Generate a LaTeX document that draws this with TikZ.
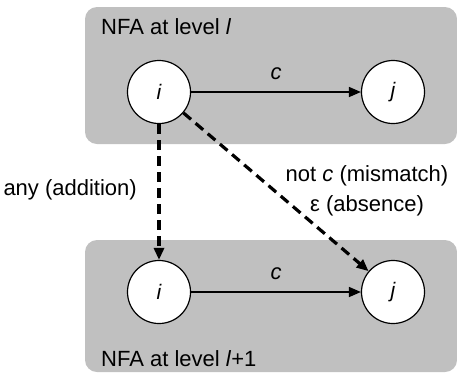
\documentclass[tikz,border=0pt]{standalone}
\usepackage{fontspec}
\setmainfont{Liberation Sans}
\usetikzlibrary{arrows.meta}

\definecolor{levelgray}{RGB}{192,192,192}
\tikzset{
  state/.style={circle,draw,fill=white,line width=1.2pt,minimum size=63pt,inner sep=0pt,font=\fontsize{21}{24}\selectfont\itshape},
  level/.style={fill=levelgray,rounded corners=12pt},
  lbl/.style={font=\fontsize{22}{30}\selectfont,inner sep=0pt},
  trans/.style={line width=1.5pt,-{Triangle[length=12pt,width=10pt]}},
  jump/.style={trans,line width=3.2pt,dash pattern=on 10pt off 6pt}
}

\begin{document}
\begin{tikzpicture}[x=1pt,y=-1pt]
    \useasboundingbox (0,0) rectangle (457,373);
    \path[level] (85,7) rectangle (457,144); % level l
    \path[level] (85,240) rectangle (457,372); % level l+1
    \node[lbl,anchor=west] (top) at (101,27) {NFA at level \textit{l}};
    \node[lbl,anchor=west] (bot) at (101,359) {NFA at level \textit{l}+1};
					 % states
    \node[state] (i1) at (159,92) {i};
    \node[state] (j1) at (393,92) {j};
    \node[state] (i2) at (159,292) {i};
    \node[state] (j2) at (393,292) {j};

    \draw[trans] (i1) -- node[lbl,above=12pt,font=\fontsize{22}{26}\selectfont\itshape] {c} (j1);
    \draw[trans] (i2) -- node[lbl,above=12pt,font=\fontsize{22}{26}\selectfont\itshape] {c} (j2);

    \draw[jump] (i1) -- (i2);
    \draw[jump] (i1) -- (j2);
    \node[lbl,anchor=east] (add) at (137,190) {any (addition)};
    \node[lbl,align=center] (mis) at (367,191) {not \textit{c} (mismatch)\\ε (absence)};
\end{tikzpicture}
\end{document}
